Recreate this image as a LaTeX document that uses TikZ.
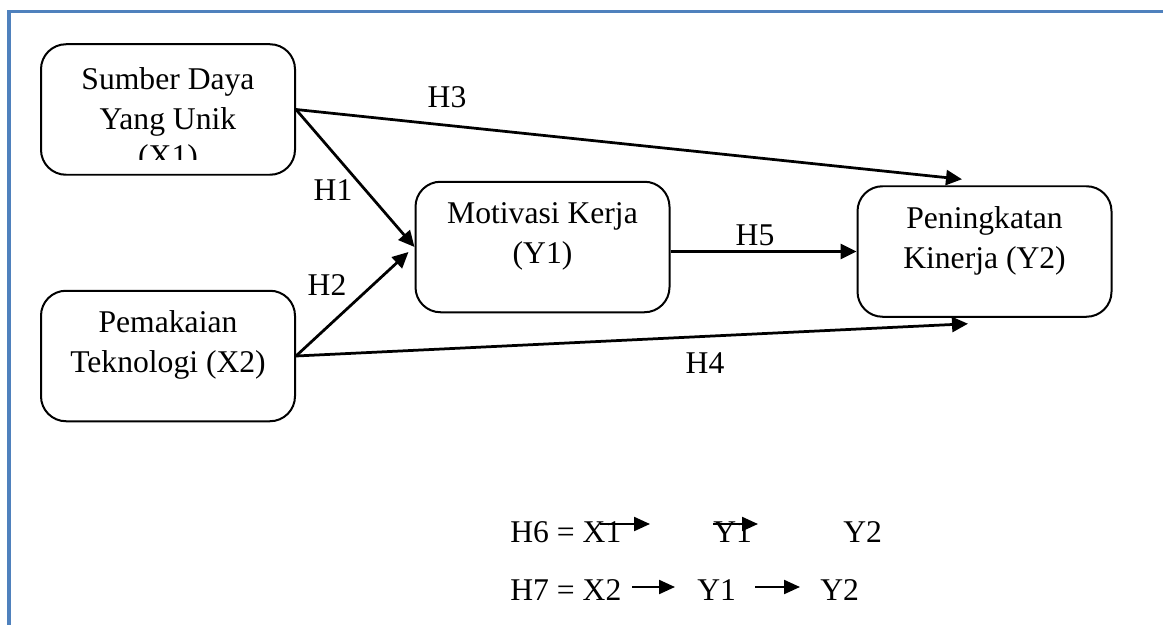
\documentclass[tikz,border=0pt]{standalone}
\usepackage{fontspec}
\setmainfont{Liberation Serif}
\usetikzlibrary{arrows.meta}
\definecolor{frameblue}{RGB}{79,129,189}

\begin{document}
\begin{tikzpicture}[
  varbox/.style={rectangle, rounded corners=0.5cm, draw, line width=0.04cm,
                 minimum width=5.08cm, minimum height=2.61cm, align=center,
                 font=\fontsize{18}{22.5}\selectfont,
                 text height=34.5pt, text depth=15.7pt},
  hlabel/.style={font=\fontsize{18}{22.5}\selectfont, inner sep=0pt},
  hyp/.style={-{Triangle[length=0.32cm,width=0.3cm]}, line width=0.055cm},
  chain/.style={-{Triangle[length=0.32cm,width=0.28cm]}, line width=0.045cm},
  frame/.style={draw=frameblue, line width=0.07cm}
]
\useasboundingbox (0,0) rectangle (23.26,-12.5);
% page frame
\draw[frame] (0.18,-12.6) |- (23.4,-0.23);
% variables
\node[varbox, text depth=11.7pt] (x1) at (3.36,-2.19)  {Sumber Daya\\Yang Unik};
\node[varbox] (x2) at (3.36,-7.12)  {Pemakaian\\Teknologi (X2)};
\node[varbox] (y1) at (10.85,-4.94) {Motivasi Kerja\\(Y1)};
\node[varbox] (y2) at (19.69,-5.03) {Peningkatan\\Kinerja (Y2)};
% cut-off third line of X1
\begin{scope}
  \clip (0.9,-0.9) rectangle (5.85,-3.2);
  \node[hlabel, anchor=base] (x1tag) at (3.36,-3.34) {(X1)};
\end{scope}
% hypotheses
\draw[hyp] (x1.east) -- (y1.west);
\draw[hyp] (x2.east) -- ([xshift=-0.12cm,yshift=-0.1cm]y1.west);
\draw[hyp] (x1.east) -- ([xshift=-0.45cm,yshift=0.12cm]y2.north);
\draw[hyp] (x2.east) -- ([xshift=-0.33cm,yshift=-0.12cm]y2.south);
\draw[hyp] (y1.east |- y2.west) -- (y2.west);
\node[hlabel] (h1) at (6.66,-3.8)  {H1};
\node[hlabel] (h2) at (6.54,-5.7)  {H2};
\node[hlabel] (h3) at (8.94,-1.94) {H3};
\node[hlabel] (h4) at (14.1,-7.26) {H4};
\node[hlabel] (h5) at (15.1,-4.7)  {H5};
% mediation paths
\node[hlabel, anchor=base west] (h6)   at (10.2,-10.84)  {H6 = X1};
\node[hlabel, anchor=base west] (h6y1) at (14.26,-10.84) {Y1};
\node[hlabel, anchor=base west] (h6y2) at (16.86,-10.84) {Y2};
\node[hlabel, anchor=base west] (h7)   at (10.2,-12.0)   {H7 = X2};
\node[hlabel, anchor=base west] (h7y1) at (13.94,-12.0)  {Y1};
\node[hlabel, anchor=base west] (h7y2) at (16.4,-12.0)   {Y2};
\coordinate (a1) at (12.0,-10.48);
\coordinate (b1) at (13.0,-10.48);
\coordinate (a2) at (14.26,-10.48);
\coordinate (b2) at (15.16,-10.48);
\coordinate (a3) at (12.64,-11.74);
\coordinate (b3) at (13.5,-11.74);
\coordinate (a4) at (15.1,-11.74);
\coordinate (b4) at (16.0,-11.74);
\draw[chain] (a1) -- (b1);
\draw[chain] (a2) -- (b2);
\draw[chain] (a3) -- (b3);
\draw[chain] (a4) -- (b4);
\end{tikzpicture}
\end{document}
